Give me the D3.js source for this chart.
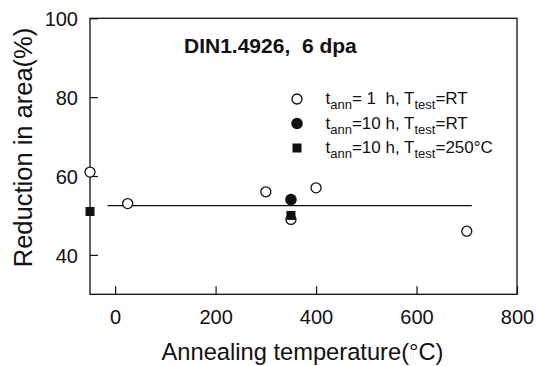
<!DOCTYPE html>
<html><head><meta charset="utf-8">
<script src="https://cdn.jsdelivr.net/npm/d3@7"></script>
<style>
html,body{margin:0;padding:0;background:#fff;}
svg{display:block;font-family:"Liberation Sans",Arial,sans-serif;}
text{white-space:pre;}
</style></head>
<body>
<svg id="c" width="536" height="366"></svg>
<script>
// Data
const openCircleX = [-50, 25, 300, 350, 400, 700];
const openCircleY = [61, 53, 56, 49, 57, 46];
const filledCircleX = [350];
const filledCircleY = [54];
const filledSquareX = [-50, 350];
const filledSquareY = [51, 50];
const fitLineX = [-15, 710];
const fitLineY = [52.5, 52.5];
const xTicks = [0, 200, 400, 600, 800];
const yTicks = [40, 60, 80, 100];
const chartTitle = "DIN1.4926,  6 dpa";
const xTitle = "Annealing temperature(°C)";
const yTitle = "Reduction in area(%)";

const svg = d3.select("#c");
const L = 90, R = 517, T = 18.3, B = 294.3;
const x = d3.scaleLinear().domain([-50, 800]).range([L, R]);
const y = d3.scaleLinear().domain([30, 100]).range([B, T]);
const ink = "#111";

// frame
svg.append("rect").attr("x", L).attr("y", T).attr("width", R - L).attr("height", B - T)
  .attr("fill", "none").attr("stroke", ink).attr("stroke-width", 1.3);

// axes with inward ticks
const xAxis = svg.append("g").attr("transform", `translate(0,${B})`)
  .call(d3.axisBottom(x).tickValues(xTicks).tickSizeInner(-8).tickSizeOuter(0).tickPadding(18));
const yAxis = svg.append("g").attr("transform", `translate(${L},0)`)
  .call(d3.axisLeft(y).tickValues(yTicks).tickSizeInner(-8).tickSizeOuter(0).tickPadding(12));
[xAxis, yAxis].forEach(g => {
  g.select(".domain").remove();
  g.selectAll(".tick line").attr("stroke", ink).attr("stroke-width", 1.2);
  g.selectAll(".tick text").attr("fill", ink).attr("font-size", 20)
    .attr("font-family", "Liberation Sans, Arial, sans-serif");
});
xAxis.selectAll(".tick text").attr("dy", null).attr("y", 30);
yAxis.selectAll(".tick text").attr("dy", "0.36em");

// fit line
const line = d3.line().x(d => x(d[0])).y(d => y(d[1]));
svg.append("path").datum(d3.zip(fitLineX, fitLineY)).attr("d", line)
  .attr("fill", "none").attr("stroke", ink).attr("stroke-width", 1.2);

// points
const openPts = d3.zip(openCircleX, openCircleY);
svg.selectAll(".oc").data(openPts).join("circle").attr("class", "oc")
  .attr("cx", d => x(d[0])).attr("cy", d => y(d[1])).attr("r", 5)
  .attr("fill", "#fff").attr("stroke", ink).attr("stroke-width", 1.3);
svg.selectAll(".fc").data(d3.zip(filledCircleX, filledCircleY)).join("circle").attr("class", "fc")
  .attr("cx", d => x(d[0])).attr("cy", d => y(d[1])).attr("r", 5.8).attr("fill", ink);
const sq = 9;
svg.selectAll(".fs").data(d3.zip(filledSquareX, filledSquareY)).join("rect").attr("class", "fs")
  .attr("x", d => x(d[0]) - sq / 2).attr("y", d => y(d[1]) - sq / 2)
  .attr("width", sq).attr("height", sq).attr("fill", ink);

// title
svg.append("text").attr("x", 184).attr("y", 52.5).attr("font-size", 21).attr("font-weight", "bold")
  .attr("fill", ink).text(chartTitle);

// legend
const legend = [
  {sym: "open", a: "t", as: "ann", b: "= 1  h, T", bs: "test", c: "=RT"},
  {sym: "fill", a: "t", as: "ann", b: "=10 h, T", bs: "test", c: "=RT"},
  {sym: "square", a: "t", as: "ann", b: "=10 h, T", bs: "test", c: "=250°C"}
];
legend.forEach((d, i) => {
  const cy = 99 + i * 24.5;
  if (d.sym === "open") svg.append("circle").attr("cx", 297).attr("cy", cy).attr("r", 5)
    .attr("fill", "#fff").attr("stroke", ink).attr("stroke-width", 1.3);
  else if (d.sym === "fill") svg.append("circle").attr("cx", 297).attr("cy", cy).attr("r", 5.8).attr("fill", ink);
  else svg.append("rect").attr("x", 297 - sq / 2).attr("y", cy - sq / 2).attr("width", sq).attr("height", sq).attr("fill", ink);
  const t = svg.append("text").attr("x", 325.5).attr("y", cy + 5).attr("font-size", 17).attr("fill", ink);
  t.append("tspan").text(d.a);
  t.append("tspan").attr("font-size", 13).attr("dy", 5).text(d.as);
  t.append("tspan").attr("dy", -5).text(d.b);
  t.append("tspan").attr("font-size", 13).attr("dy", 5).text(d.bs);
  t.append("tspan").attr("dy", -5).text(d.c);
});

// axis titles
svg.append("text").attr("x", 302.5).attr("y", 360).attr("text-anchor", "middle")
  .attr("font-size", 23.7).attr("fill", ink).text(xTitle);
svg.append("text").attr("transform", `translate(32,147.5) rotate(-90)`)
  .attr("text-anchor", "middle").attr("font-size", 25.5).attr("fill", ink).text(yTitle);
</script>
</body></html>
